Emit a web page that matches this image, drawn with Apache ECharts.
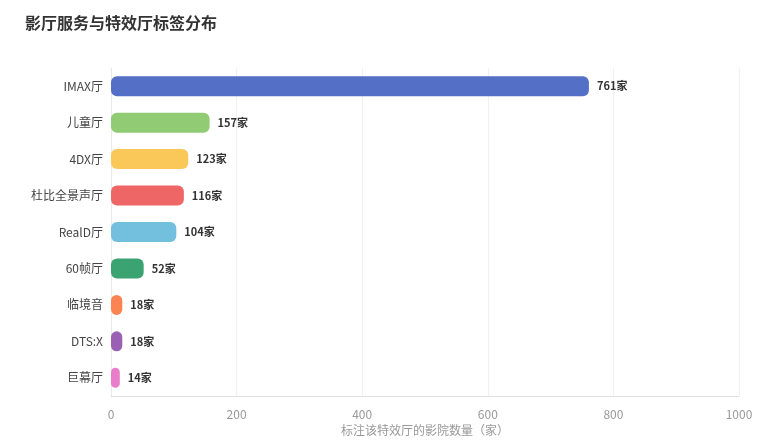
<!DOCTYPE html>
<html><head><meta charset="utf-8">
<script src="https://cdn.jsdelivr.net/npm/echarts@6/dist/echarts.min.js"></script>
<style>html,body{margin:0;padding:0;background:#fff}#c{width:774px;height:442px}</style>
</head><body><div id="c"></div>
<script>
const categories = ['IMAX厅','儿童厅','4DX厅','杜比全景声厅','RealD厅','60帧厅','临境音','DTS:X','巨幕厅'];
const values = [761,157,123,116,104,52,18,18,14];
const colors = ['#5470c6','#91cc75','#fac858','#ee6666','#73c0de','#3ba272','#fc8452','#9a60b4','#ea7ccc'];
const xTicks = [0,200,400,600,800,1000];
const font = '"Noto Sans CJK SC", "Noto Sans", sans-serif';
const chart = echarts.init(document.getElementById('c'));
chart.setOption({
  animation:false,
  textStyle:{fontFamily:font},
  title:{text:'影厅服务与特效厅标签分布',left:20,top:10,textStyle:{fontSize:16,fontWeight:'bold',color:'#333',fontFamily:font}},
  grid:{left:111,right:35,top:68,bottom:46},
  xAxis:{type:'value',min:0,max:xTicks[xTicks.length-1],interval:200,
    name:'标注该特效厅的影院数量（家）',nameLocation:'middle',nameGap:24,
    nameTextStyle:{color:'#999',fontSize:12},
    axisLine:{show:true,lineStyle:{color:'#e0e0e0'}},axisTick:{show:false},
    axisLabel:{color:'#999',fontSize:12,margin:12,formatter:v=>String(v)},
    splitLine:{lineStyle:{color:'#f0f0f0'}}},
  yAxis:{type:'category',inverse:true,data:categories,
    axisLine:{show:true,lineStyle:{color:'#e8e8e8'}},axisTick:{show:false},
    axisLabel:{color:'#444',fontSize:12,margin:8}},
  series:[{type:'bar',barWidth:20,
    data:values.map((v,i)=>({value:v,itemStyle:{color:colors[i]}})),
    itemStyle:{borderRadius:6},
    label:{show:true,position:'right',distance:8,formatter:'{c}家',fontWeight:'bold',fontSize:11,color:'#333'}}]
});
</script></body></html>
